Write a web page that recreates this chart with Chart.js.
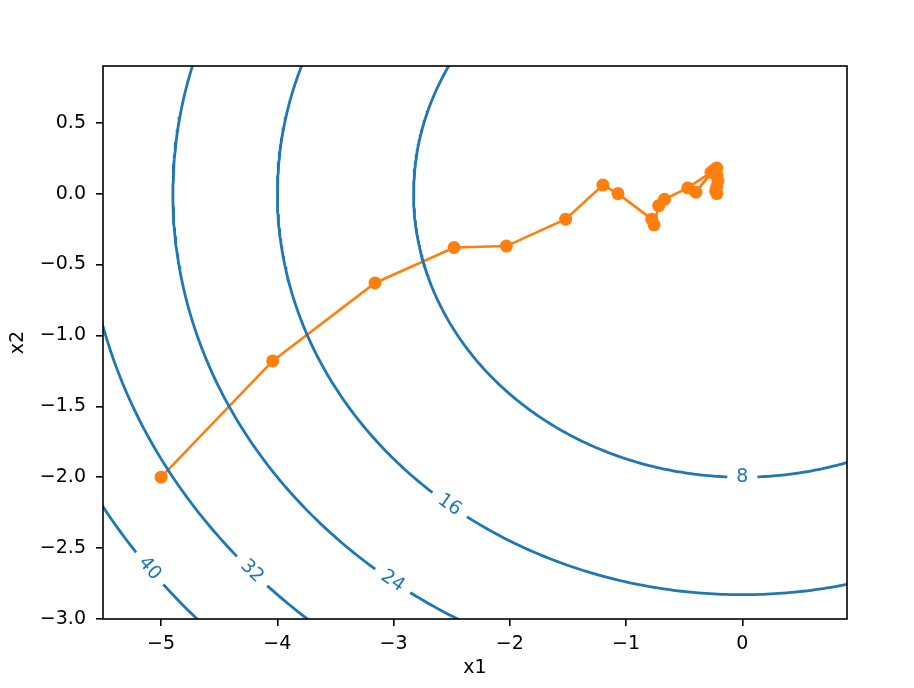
<!DOCTYPE html>
<html><head><meta charset="utf-8">
<script src="https://cdn.jsdelivr.net/npm/chart.js@4/dist/chart.umd.min.js"></script>
<style>html,body{margin:0;padding:0;background:#fff}#c{display:block}</style>
</head><body>
<canvas id="c" width="914" height="688" style="width:914px;height:688px"></canvas>
<script>
// Objective f(x1, x2) = x1^2 + 2*x2^2 ; contour levels and label anchors
const contourLevels = [8, 16, 24, 32, 40];
const contourLabelX1 = [0, -2.52, -3.01, -4.22, -5.10];
// Optimisation trajectory
const pathX1 = [-5.00, -4.04, -3.16, -2.48, -2.03, -1.52, -1.20, -1.07, -0.78, -0.76, -0.72, -0.67, -0.47, -0.27, -0.40, -0.24, -0.22, -0.22, -0.21, -0.22, -0.23, -0.22];
const pathX2 = [-2.00, -1.18, -0.63, -0.38, -0.37, -0.18, 0.06, 0.00, -0.18, -0.22, -0.085, -0.04, 0.04, 0.15, 0.01, 0.17, 0.18, 0.13, 0.09, 0.05, 0.02, 0.00];
const xTicks = [-5, -4, -3, -2, -1, 0];
const yTicks = [-3.0, -2.5, -2.0, -1.5, -1.0, -0.5, 0.0, 0.5];
const xRange = [-5.5, 0.9];
const yRange = [-3.0, 0.9];

const BLUE = '#1f77b4', ORANGE = '#ff7f0e';
const FONT = {family: 'DejaVu Sans', size: 19};

function ellipse(c) {
  const pts = [];
  for (let k = 0; k <= 720; k++) {
    const t = k / 720 * 2 * Math.PI;
    pts.push({x: Math.sqrt(c) * Math.cos(t), y: Math.sqrt(c / 2) * Math.sin(t)});
  }
  return pts;
}
const fmt = (v, d) => (d ? v.toFixed(d) : String(v)).replace('-', '\u2212');

const datasets = contourLevels.map(c => ({
  data: ellipse(c), showLine: true, borderColor: BLUE, borderWidth: 2.8,
  pointRadius: 0, fill: false, tension: 0
}));
datasets.push({
  data: pathX1.map((x, i) => ({x, y: pathX2[i]})), showLine: true,
  borderColor: ORANGE, backgroundColor: ORANGE, borderWidth: 2.6,
  pointRadius: 6.5, pointBorderWidth: 0, pointHoverRadius: 6.5, tension: 0
});

const labelPlugin = {
  id: 'clabels',
  afterDatasetsDraw(chart) {
    const ctx = chart.ctx, xs = chart.scales.x, ys = chart.scales.y;
    const sx = xs.getPixelForValue(1) - xs.getPixelForValue(0);
    const sy = ys.getPixelForValue(1) - ys.getPixelForValue(0);
    ctx.save();
    ctx.beginPath();
    ctx.rect(chart.chartArea.left, chart.chartArea.top, chart.chartArea.width, chart.chartArea.height);
    ctx.clip();
    ctx.font = FONT.size + 'px "DejaVu Sans"';
    contourLevels.forEach((c, i) => {
      const x1 = contourLabelX1[i];
      const x2 = -Math.sqrt(Math.max(0, (c - x1 * x1) / 2));
      const px = xs.getPixelForValue(x1), py = ys.getPixelForValue(x2);
      let a = Math.atan2(2 * x1 * sy, -4 * x2 * sx);
      if (a > Math.PI / 2) a -= Math.PI;
      if (a < -Math.PI / 2) a += Math.PI;
      const txt = String(c);
      const w = ctx.measureText(txt).width;
      ctx.save();
      ctx.translate(px, py);
      ctx.rotate(a);
      ctx.fillStyle = '#fff';
      ctx.fillRect(-w / 2 - 9, -6, w + 18, 12);
      ctx.fillStyle = BLUE;
      ctx.textAlign = 'center';
      ctx.textBaseline = 'middle';
      ctx.fillText(txt, 0, 0);
      ctx.restore();
    });
    ctx.restore();
  },
  afterDraw(chart) {
    const {left, top, width, height} = chart.chartArea;
    const ctx = chart.ctx;
    ctx.save();
    ctx.strokeStyle = '#000';
    ctx.lineWidth = 1.6;
    ctx.strokeRect(left, top, width, height);
    ctx.restore();
  }
};

new Chart(document.getElementById('c'), {
  type: 'scatter',
  data: {datasets},
  options: {
    responsive: false, animation: false, devicePixelRatio: 1,
    layout: {padding: {left: 7, top: 66, right: 67, bottom: 9}},
    plugins: {legend: {display: false}, tooltip: {enabled: false}},
    scales: {
      x: {
        type: 'linear', min: xRange[0], max: xRange[1],
        afterBuildTicks: s => { s.ticks = xTicks.map(v => ({value: v})); },
        afterFit: s => { s.height = 60; },
        border: {display: false},
        grid: {drawOnChartArea: false, drawTicks: true, tickLength: 7, color: '#000', lineWidth: 1.6},
        ticks: {callback: v => fmt(v, 0), font: FONT, color: '#000', padding: 7, maxRotation: 0, autoSkip: false},
        title: {display: true, text: 'x1', font: FONT, color: '#000', padding: 0}
      },
      y: {
        type: 'linear', min: yRange[0], max: yRange[1],
        afterBuildTicks: s => { s.ticks = yTicks.map(v => ({value: v})); },
        afterFit: s => { s.width = 96; },
        border: {display: false},
        grid: {drawOnChartArea: false, drawTicks: true, tickLength: 7, color: '#000', lineWidth: 1.6},
        ticks: {callback: v => fmt(v, 1), font: FONT, color: '#000', padding: 10, autoSkip: false},
        title: {display: true, text: 'x2', font: FONT, color: '#000', padding: 0}
      }
    }
  },
  plugins: [labelPlugin]
});
</script>
</body></html>
